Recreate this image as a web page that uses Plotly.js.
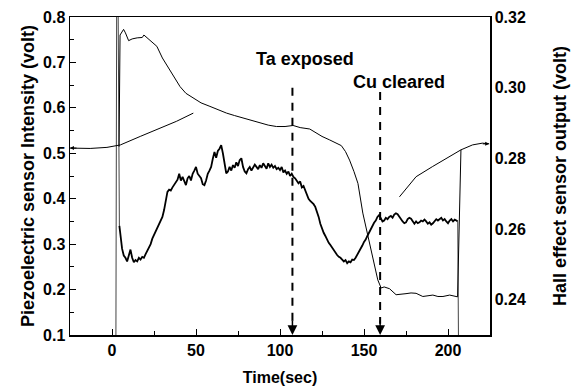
<!DOCTYPE html>
<html>
<head>
<meta charset="utf-8">
<script src="https://cdn.plot.ly/plotly-3.0.1.min.js"></script>
<style>html,body{margin:0;padding:0;background:#fff;}#chart{width:571px;height:392px;}</style>
</head>
<body>
<div id="chart"></div>
<script>
// Piezoelectric sensor intensity (left axis, volt) - start spike, noisy trace, end drop
const spikeTime = [2.3,2.8,3.6,4.4];
const spikeValue = [0.05,0.85,0.85,0.34];
const piezoTime = [4.4,5,6,7,8,9,10,11,12,13,14,15,16,17,18,19,20,21,22,23,24,25,26,27,28,29,30,31,32,33,34,35,36,37,38,39,40,41,42,43,44,45,46,47,48,49,50,51,52,53,54,55,56,57,58,59,60,61,62,63,64,65,66,67,68,69,70,71,72,73,74,75,76,77,78,79,80,81,82,83,84,85,86,87,88,89,90,91,92,93,94,95,96,97,98,99,100,101,102,103,104,105,106,107,108,109,110,111,112,113,114,115,116,117,118,119,120,121,122,123,124,125,126,127,128,129,130,131,132,133,134,135,136,137,138,139,140,141,142,143,144,145,146,147,148,149,150,151,152,153,154,155,156,157,158,159,160,161,162,163,164,165,166,167,168,169,170,171,172,173,174,175,176,177,178,179,180,181,182,183,184,185,186,187,188,189,190,191,192,193,194,195,196,197,198,199,200,201,202,203,204,205,205.8];
const piezoValue = [0.34,0.316,0.29,0.275,0.27,0.262,0.275,0.288,0.27,0.26,0.265,0.262,0.27,0.266,0.272,0.27,0.278,0.285,0.292,0.30,0.312,0.32,0.328,0.335,0.345,0.35,0.36,0.375,0.40,0.415,0.42,0.418,0.425,0.43,0.435,0.442,0.455,0.44,0.448,0.438,0.43,0.445,0.45,0.44,0.455,0.462,0.47,0.455,0.45,0.445,0.432,0.43,0.44,0.455,0.462,0.47,0.488,0.503,0.49,0.505,0.51,0.518,0.50,0.478,0.456,0.46,0.47,0.462,0.474,0.468,0.48,0.472,0.485,0.489,0.47,0.46,0.456,0.465,0.47,0.462,0.468,0.475,0.47,0.465,0.474,0.468,0.478,0.472,0.466,0.478,0.47,0.475,0.468,0.472,0.465,0.468,0.463,0.47,0.458,0.462,0.455,0.46,0.45,0.455,0.448,0.445,0.44,0.434,0.438,0.425,0.428,0.418,0.41,0.40,0.395,0.392,0.388,0.382,0.372,0.36,0.345,0.333,0.325,0.318,0.31,0.303,0.298,0.292,0.285,0.282,0.276,0.272,0.27,0.266,0.262,0.265,0.258,0.262,0.26,0.266,0.265,0.27,0.276,0.282,0.29,0.297,0.305,0.31,0.318,0.326,0.333,0.34,0.347,0.352,0.36,0.364,0.355,0.35,0.352,0.358,0.355,0.36,0.362,0.358,0.365,0.368,0.366,0.36,0.355,0.35,0.346,0.348,0.355,0.358,0.356,0.35,0.345,0.35,0.346,0.348,0.352,0.35,0.354,0.35,0.345,0.348,0.343,0.346,0.35,0.355,0.352,0.356,0.358,0.352,0.355,0.35,0.346,0.352,0.355,0.35,0.354,0.352,0.35];
const dropTime = [205.8,206.3];
const dropValue = [0.35,0.05];

// Hall effect sensor output (right axis, volt) - main trace
const hallTime = [4.2,4.8,6.9,8,9.9,12,15,18,19,22,26.7,30,34.6,40.5,44,48.4,53,58.3,63,68.2,73,78.1,83,88,93,97.9,103,107.8,112,117.7,121.7,125,129.6,133,136.5,139,141.4,144,146.4,149.3,152.3,155.3,158.2,160.2,162,165.2,169.1,175,178,181,185,191,194,197,201,205.7,207.7];
const hallValue = [0.2833,0.3149,0.3165,0.3155,0.3133,0.3138,0.3141,0.3142,0.3149,0.3136,0.3117,0.3084,0.3050,0.3003,0.2984,0.2970,0.2957,0.2947,0.2937,0.2928,0.2921,0.2914,0.2906,0.2899,0.2894,0.2890,0.2890,0.2893,0.2887,0.2883,0.2871,0.2862,0.2852,0.2845,0.2836,0.2819,0.2795,0.2763,0.2729,0.2645,0.2578,0.2513,0.2456,0.2433,0.2436,0.2431,0.2414,0.2417,0.2419,0.2418,0.2409,0.2413,0.2409,0.2409,0.2413,0.2408,0.2824];

// Hall effect baseline arcs (right axis), gap between them
const arcTime = [-25,-13,-3,5,16.8,28.7,38.5,48.4,null,171.1,181,190.9,200.8,207.7,214.6,220.5,224.5];
const arcValue = [0.2829,0.2828,0.2831,0.2838,0.2862,0.2885,0.2905,0.2928,null,0.2691,0.2748,0.2777,0.2805,0.2824,0.2838,0.2843,0.2841];

// Event markers
const eventLabels = ["Ta exposed","Cu cleared"];
const eventTime = [107.4,159.6];
const eventTop = [0.644,0.635];
const eventLabelX = [114.7,171.1];
const eventLabelY = [0.707,0.656];

const xTicks = [0,50,100,150,200];
const yTicks = [0.1,0.2,0.3,0.4,0.5,0.6,0.7,0.8];
const y2Ticks = [0.24,0.26,0.28,0.30,0.32];

const FONT = 'Liberation Sans, Arial, sans-serif';

const traces = [
  {x: spikeTime, y: spikeValue, type:'scatter', mode:'lines', line:{color:'#444', width:1}, yaxis:'y', hoverinfo:'skip'},
  {x: piezoTime, y: piezoValue, type:'scatter', mode:'lines', line:{color:'#000', width:1.8}, yaxis:'y', hoverinfo:'skip'},
  {x: dropTime, y: dropValue, type:'scatter', mode:'lines', line:{color:'#444', width:1}, yaxis:'y', hoverinfo:'skip'},
  {x: hallTime, y: hallValue, type:'scatter', mode:'lines', line:{color:'#000', width:1}, yaxis:'y2', hoverinfo:'skip'},
  {x: arcTime, y: arcValue, type:'scatter', mode:'lines', line:{color:'#000', width:1}, yaxis:'y2', connectgaps:false, hoverinfo:'skip'}
];

const shapes = [];
const annotations = [];
for (let i = 0; i < eventLabels.length; i++) {
  shapes.push({type:'line', xref:'x', yref:'y', x0:eventTime[i], x1:eventTime[i], y0:eventTop[i], y1:0.125,
    line:{color:'#000', width:2, dash:'8px,7px'}});
  annotations.push({x:eventTime[i], y:0.1, xref:'x', yref:'y', text:'', showarrow:true, arrowhead:2,
    arrowsize:1.3, arrowwidth:1.5, arrowcolor:'#000', ax:0, ay:-16});
  annotations.push({x:eventLabelX[i], y:eventLabelY[i], xref:'x', yref:'y', text:'<b>'+eventLabels[i]+'</b>',
    showarrow:false, font:{family:FONT, size:18, color:'#000'}});
}
// arrow ends of the baseline arcs
annotations.push({x:arcTime[0], y:arcValue[0], xref:'x', yref:'y2', text:'', showarrow:true, arrowhead:2,
  arrowsize:0.8, arrowwidth:1, arrowcolor:'#000', ax:8, ay:0});
annotations.push({x:arcTime[arcTime.length-1], y:arcValue[arcValue.length-1], xref:'x', yref:'y2', text:'', showarrow:true, arrowhead:2,
  arrowsize:0.8, arrowwidth:1, arrowcolor:'#000', ax:-8, ay:0});

const layout = {
  width:571, height:392,
  margin:{l:70, r:81, t:17, b:57, pad:0},
  paper_bgcolor:'#fff', plot_bgcolor:'#fff',
  showlegend:false,
  font:{family:FONT, color:'#000'},
  xaxis:{
    range:[-25,225], tickvals:xTicks, ticktext:xTicks.map(v=>'<b>'+v+'</b>'),
    ticks:'inside', ticklen:6, tickwidth:1, tickcolor:'#000',
    minor:{dtick:25, tick0:0, ticks:'inside', ticklen:4, tickcolor:'#000'},
    showline:true, linecolor:'#000', linewidth:1.5, mirror:true,
    showgrid:false, zeroline:false,
    tickfont:{family:FONT, size:16, color:'#000'},
    title:{text:'<b>Time(sec)</b>', font:{family:FONT, size:16, color:'#000'}, standoff:14}
  },
  yaxis:{
    range:[0.1,0.8], tickvals:yTicks, ticktext:yTicks.map(v=>'<b>'+v.toFixed(1)+'</b>'),
    ticks:'inside', ticklen:6, tickwidth:1, tickcolor:'#000',
    minor:{dtick:0.05, tick0:0.1, ticks:'inside', ticklen:4, tickcolor:'#000'},
    showline:true, linecolor:'#000', linewidth:1.5, mirror:false,
    showgrid:false, zeroline:false,
    tickfont:{family:FONT, size:16, color:'#000'},
    title:{text:'<b>Piezoelectric sensor Intensity (volt)</b>', font:{family:FONT, size:18, color:'#000'}, standoff:3}
  },
  yaxis2:{
    range:[0.23,0.32], overlaying:'y', side:'right',
    tickvals:y2Ticks, ticktext:y2Ticks.map(v=>'<b>'+v.toFixed(2)+'</b>'),
    ticks:'', showline:true, linecolor:'#000', linewidth:1.5,
    showgrid:false, zeroline:false,
    tickfont:{family:FONT, size:16, color:'#000'},
    title:{text:'<b>Hall effect sensor output (volt)</b>', font:{family:FONT, size:18, color:'#000'}, standoff:28}
  },
  shapes:shapes,
  annotations:annotations
};

Plotly.newPlot('chart', traces, layout, {staticPlot:true, displayModeBar:false});
</script>
</body>
</html>
